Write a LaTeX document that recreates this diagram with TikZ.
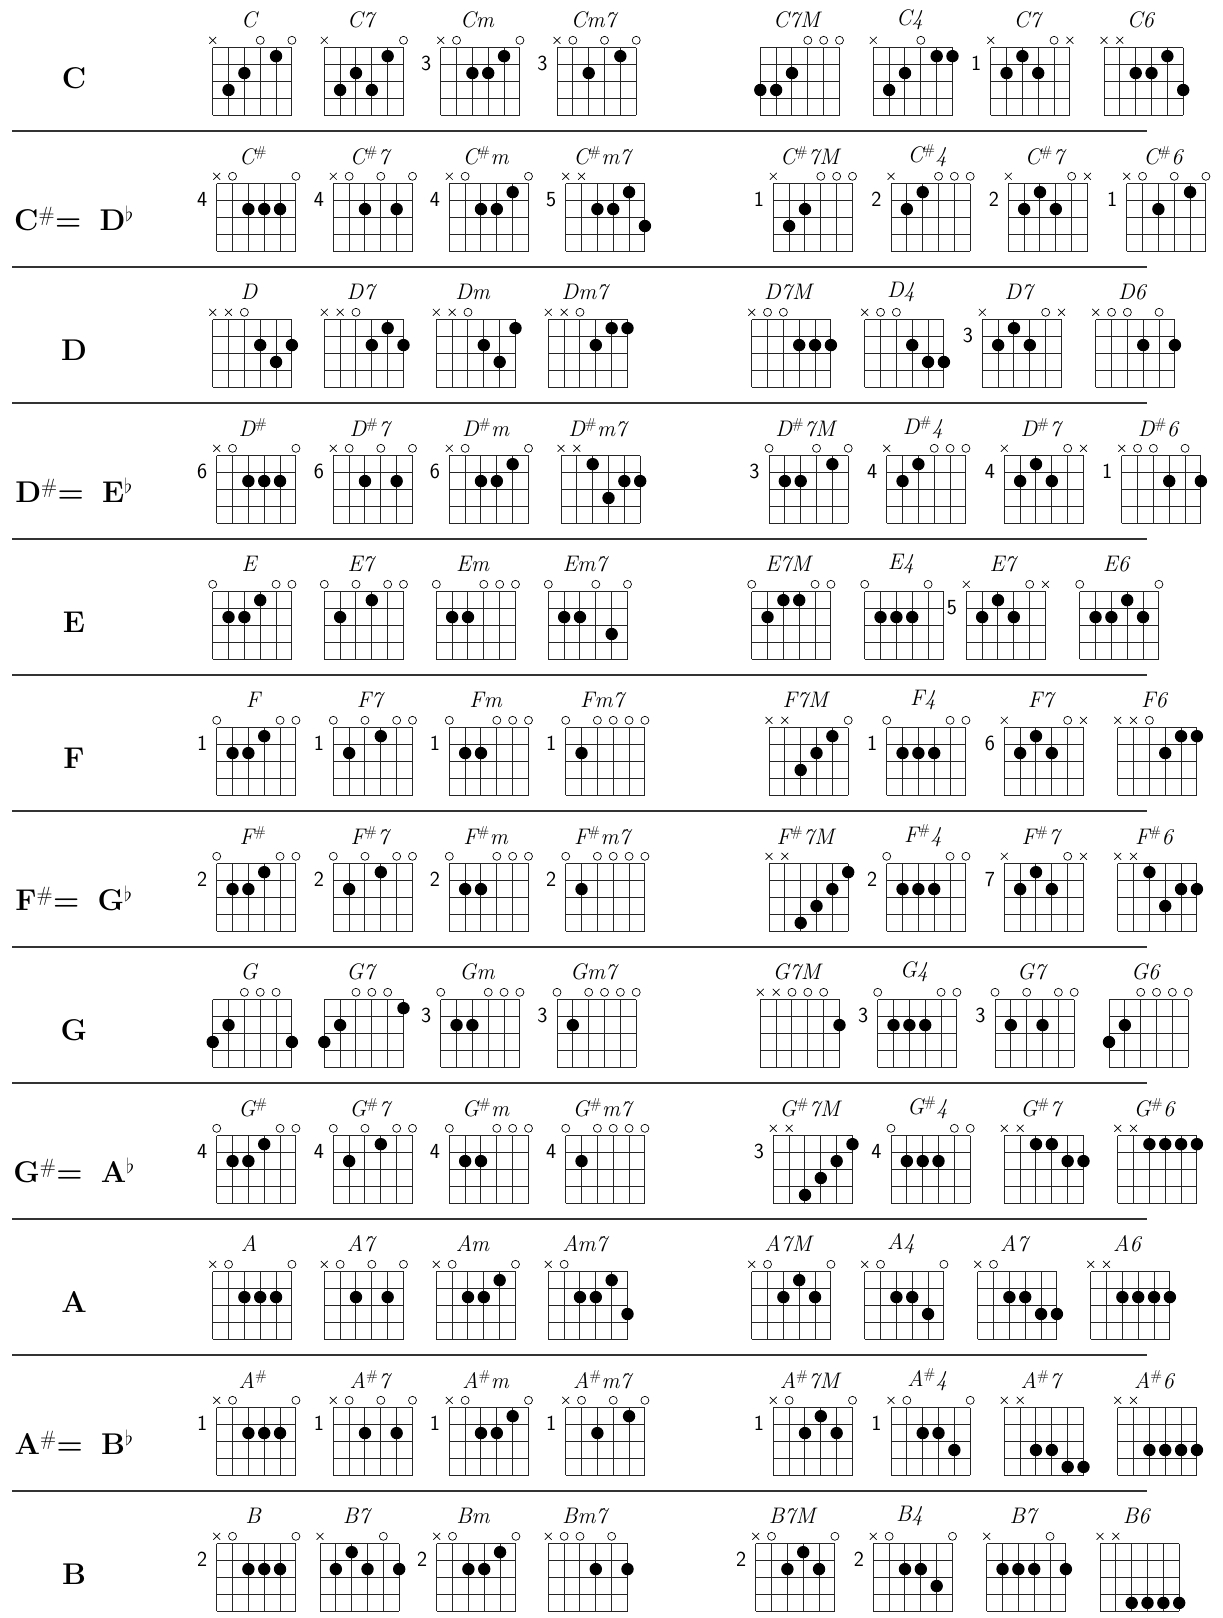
\documentclass[tikz,border=0pt]{standalone}
\newcounter{cdn}
\tikzset{
  gridln/.style={line width=1pt, draw=black!85},
  dotmark/.style={fill=black},
  openmark/.style={line width=0.7pt, draw=black},
  mutemark/.style={line width=0.7pt, draw=black},
  chordname/.style={font=\fontsize{22.5}{26}\selectfont\itshape, inner sep=0pt},
  fretlbl/.style={font=\fontsize{21.5}{25}\selectfont\sffamily, inner sep=0pt},
  rowlbl/.style={font=\fontsize{30}{36}\selectfont\bfseries, inner sep=0pt, anchor=base},
  sepline/.style={line width=1.6pt, draw=black!80},
}
\newcommand\sh{$^{\#}$}
\newcommand\cdiag[7]{%
 \stepcounter{cdn}%
 \begin{scope}[shift={(#1,47.7+136*#2)}]
   \foreach \i in {0,...,5} \draw[gridln] (\i*15.84,0) -- (\i*15.84,67.7);
   \foreach \j in {0,...,4} \draw[gridln] (0,\j*16.92) -- (79.2,\j*16.92);
   \node[chordname] (nm\thecdn) at (36.3,-28) {#3};
   \if\relax\detokenize{#4}\relax\else \node[fretlbl] (fr\thecdn) at (-14.5,15.7) {#4};\fi
   \if\relax\detokenize{#5}\relax\else
     \foreach \s in {#5} {\draw[mutemark] ({(\s-1)*15.84-3.4},-10.8) -- ++(6.8,6.8) ({(\s-1)*15.84-3.4},-4.0) -- ++(6.8,-6.8);}\fi
   \if\relax\detokenize{#6}\relax\else
     \foreach \s in {#6} {\draw[openmark] ({(\s-1)*15.84},-7.4) circle[radius=4];}\fi
   \foreach \ds/\df in {#7} {\fill[dotmark] ({(\ds-1)*15.84},{(\df-0.5)*16.92}) circle[radius=6.2];}
 \end{scope}}
\newcommand\rowlab[4]{\node[rowlbl] (#1) at (74,{47.7+136*#2+#3}) {#4};}
\newcommand\sharprow[2]{#1$^\#$= \hspace{7pt}#2$^\flat$}
\begin{document}
\begin{tikzpicture}[x=1pt,y=-1pt]
\fill[white] (0,0) rectangle (1223,1618);
\useasboundingbox (0,0) rectangle (1223,1618);
\foreach \k in {0,...,10} \draw[sepline] (12.4,131+136*\k) -- (1147,131+136*\k);
\rowlab{rC}{0}{41}{C}
\rowlab{rCs}{1}{46.5}{\sharprow{C}{D}}
\rowlab{rD}{2}{41}{D}
\rowlab{rDs}{3}{46.5}{\sharprow{D}{E}}
\rowlab{rE}{4}{41}{E}
\rowlab{rF}{5}{41}{F}
\rowlab{rFs}{6}{46.5}{\sharprow{F}{G}}
\rowlab{rG}{7}{41}{G}
\rowlab{rGs}{8}{46.5}{\sharprow{G}{A}}
\rowlab{rA}{9}{41}{A}
\rowlab{rAs}{10}{46.5}{\sharprow{A}{B}}
\rowlab{rB}{11}{41}{B}
% Row C
\cdiag{212.7}{0}{C}{}{1}{4,6}{5/1,3/2,2/3}
\cdiag{324.3}{0}{C7}{}{1}{6}{5/1,3/2,2/3,4/3}
\cdiag{440.7}{0}{Cm}{3}{1}{2,6}{5/1,3/2,4/2}
\cdiag{557.0}{0}{Cm7}{3}{1}{2,4,6}{5/1,3/2}
\cdiag{760.3}{0}{C7M}{}{}{4,5,6}{1/3,2/3,3/2}
\cdiag{873.3}{0}{C4}{}{1}{4}{5/1,6/1,3/2,2/3}
\cdiag{990.7}{0}{C7}{1}{1,6}{5}{3/1,2/2,4/2}
\cdiag{1104.0}{0}{C6}{}{1,2}{}{5/1,3/2,4/2,6/3}
% Row C#
\cdiag{216.7}{1}{C\sh}{4}{1}{2,6}{3/2,4/2,5/2}
\cdiag{333.3}{1}{C\sh 7}{4}{1}{2,4,6}{3/2,5/2}
\cdiag{449.3}{1}{C\sh m}{4}{1}{2,6}{5/1,3/2,4/2}
\cdiag{565.7}{1}{C\sh m7}{5}{1,2}{}{5/1,3/2,4/2,6/3}
\cdiag{773.3}{1}{C\sh 7M}{1}{1}{4,5,6}{3/2,2/3}
\cdiag{891.0}{1}{C\sh 4}{2}{1}{4,5,6}{3/1,2/2}
\cdiag{1008.3}{1}{C\sh 7}{2}{1,6}{5}{3/1,2/2,4/2}
\cdiag{1126.7}{1}{C\sh 6}{1}{1}{2,4,6}{5/1,3/2}
% Row D
\cdiag{212.7}{2}{D}{}{1,2}{3}{4/2,6/2,5/3}
\cdiag{324.3}{2}{D7}{}{1,2}{3}{5/1,4/2,6/2}
\cdiag{436.3}{2}{Dm}{}{1,2}{3}{6/1,4/2,5/3}
\cdiag{548.3}{2}{Dm7}{}{1,2}{3}{5/1,6/1,4/2}
\cdiag{751.7}{2}{D7M}{}{1}{2,3}{4/2,5/2,6/2}
\cdiag{864.7}{2}{D4}{}{1}{2,3}{4/2,5/3,6/3}
\cdiag{982.3}{2}{D7}{3}{1,6}{5}{3/1,2/2,4/2}
\cdiag{1095.7}{2}{D6}{}{1}{2,3,5}{4/2,6/2}
% Row D#
\cdiag{216.7}{3}{D\sh}{6}{1}{2,6}{3/2,4/2,5/2}
\cdiag{333.3}{3}{D\sh 7}{6}{1}{2,4,6}{3/2,5/2}
\cdiag{449.3}{3}{D\sh m}{6}{1}{2,6}{5/1,3/2,4/2}
\cdiag{561.0}{3}{D\sh m7}{}{1,2}{}{3/1,5/2,6/2,4/3}
\cdiag{769.0}{3}{D\sh 7M}{3}{}{1,4,6}{5/1,2/2,3/2}
\cdiag{886.7}{3}{D\sh 4}{4}{1}{4,5,6}{3/1,2/2}
\cdiag{1004.3}{3}{D\sh 7}{4}{1,6}{5}{3/1,2/2,4/2}
\cdiag{1121.7}{3}{D\sh 6}{1}{1}{2,3,5}{4/2,6/2}
% Row E
\cdiag{212.7}{4}{E}{}{}{1,5,6}{4/1,2/2,3/2}
\cdiag{324.3}{4}{E7}{}{}{1,3,5,6}{4/1,2/2}
\cdiag{436.3}{4}{Em}{}{}{1,4,5,6}{2/2,3/2}
\cdiag{548.3}{4}{Em7}{}{}{1,4,6}{2/2,3/2,5/3}
\cdiag{751.7}{4}{E7M}{}{}{1,5,6}{3/1,4/1,2/2}
\cdiag{864.7}{4}{E4}{}{}{1,5}{2/2,3/2,4/2}
\cdiag{966.3}{4}{E7}{5}{1,6}{5}{3/1,2/2,4/2}
\cdiag{1079.7}{4}{E6}{}{}{1,6}{4/1,2/2,3/2,5/2}
% Row F
\cdiag{216.7}{5}{F}{1}{}{1,5,6}{4/1,2/2,3/2}
\cdiag{333.3}{5}{F7}{1}{}{1,3,5,6}{4/1,2/2}
\cdiag{449.3}{5}{Fm}{1}{}{1,4,5,6}{2/2,3/2}
\cdiag{565.7}{5}{Fm7}{1}{}{1,3,4,5,6}{2/2}
\cdiag{769.0}{5}{F7M}{}{1,2}{6}{5/1,4/2,3/3}
\cdiag{886.7}{5}{F4}{1}{}{1,5,6}{2/2,3/2,4/2}
\cdiag{1004.3}{5}{F7}{6}{1,6}{5}{3/1,2/2,4/2}
\cdiag{1117.7}{5}{F6}{}{1,2}{3}{5/1,6/1,4/2}
% Row F#
\cdiag{216.7}{6}{F\sh}{2}{}{1,5,6}{4/1,2/2,3/2}
\cdiag{333.3}{6}{F\sh 7}{2}{}{1,3,5,6}{4/1,2/2}
\cdiag{449.3}{6}{F\sh m}{2}{}{1,4,5,6}{2/2,3/2}
\cdiag{565.7}{6}{F\sh m7}{2}{}{1,3,4,5,6}{2/2}
\cdiag{769.0}{6}{F\sh 7M}{}{1,2}{}{6/1,5/2,4/3,3/4}
\cdiag{886.7}{6}{F\sh 4}{2}{}{1,5,6}{2/2,3/2,4/2}
\cdiag{1004.3}{6}{F\sh 7}{7}{1,6}{5}{3/1,2/2,4/2}
\cdiag{1117.7}{6}{F\sh 6}{}{1,2}{}{3/1,5/2,6/2,4/3}
% Row G
\cdiag{212.7}{7}{G}{}{}{3,4,5}{2/2,1/3,6/3}
\cdiag{324.3}{7}{G7}{}{}{3,4,5}{6/1,2/2,1/3}
\cdiag{440.7}{7}{Gm}{3}{}{1,4,5,6}{2/2,3/2}
\cdiag{557.0}{7}{Gm7}{3}{}{1,3,4,5,6}{2/2}
\cdiag{760.3}{7}{G7M}{}{1,2}{3,4,5}{6/2}
\cdiag{877.7}{7}{G4}{3}{}{1,5,6}{2/2,3/2,4/2}
\cdiag{995.0}{7}{G7}{3}{}{1,3,5,6}{2/2,4/2}
\cdiag{1109.0}{7}{G6}{}{}{3,4,5,6}{2/2,1/3}
% Row G#
\cdiag{216.7}{8}{G\sh}{4}{}{1,5,6}{4/1,2/2,3/2}
\cdiag{333.3}{8}{G\sh 7}{4}{}{1,3,5,6}{4/1,2/2}
\cdiag{449.3}{8}{G\sh m}{4}{}{1,4,5,6}{2/2,3/2}
\cdiag{565.7}{8}{G\sh m7}{4}{}{1,3,4,5,6}{2/2}
\cdiag{773.3}{8}{G\sh 7M}{3}{1,2}{}{6/1,5/2,4/3,3/4}
\cdiag{891.0}{8}{G\sh 4}{4}{}{1,5,6}{2/2,3/2,4/2}
\cdiag{1004.3}{8}{G\sh 7}{}{1,2}{}{3/1,4/1,5/2,6/2}
\cdiag{1117.7}{8}{G\sh 6}{}{1,2}{}{3/1,4/1,5/1,6/1}
% Row A
\cdiag{212.7}{9}{A}{}{1}{2,6}{3/2,4/2,5/2}
\cdiag{324.3}{9}{A7}{}{1}{2,4,6}{3/2,5/2}
\cdiag{436.3}{9}{Am}{}{1}{2,6}{5/1,3/2,4/2}
\cdiag{548.3}{9}{Am7}{}{1}{2}{5/1,3/2,4/2,6/3}
\cdiag{751.7}{9}{A7M}{}{1}{2,6}{4/1,3/2,5/2}
\cdiag{864.7}{9}{A4}{}{1}{2,6}{3/2,4/2,5/3}
\cdiag{977.7}{9}{A7}{}{1}{2}{3/2,4/2,5/3,6/3}
\cdiag{1090.7}{9}{A6}{}{1,2}{}{3/2,4/2,5/2,6/2}
% Row A#
\cdiag{216.7}{10}{A\sh}{1}{1}{2,6}{3/2,4/2,5/2}
\cdiag{333.3}{10}{A\sh 7}{1}{1}{2,4,6}{3/2,5/2}
\cdiag{449.3}{10}{A\sh m}{1}{1}{2,6}{5/1,3/2,4/2}
\cdiag{565.7}{10}{A\sh m7}{1}{1}{2,4,6}{5/1,3/2}
\cdiag{773.3}{10}{A\sh 7M}{1}{1}{2,6}{4/1,3/2,5/2}
\cdiag{891.0}{10}{A\sh 4}{1}{1}{2,6}{3/2,4/2,5/3}
\cdiag{1004.3}{10}{A\sh 7}{}{1,2}{}{3/3,4/3,5/4,6/4}
\cdiag{1117.7}{10}{A\sh 6}{}{1,2}{}{3/3,4/3,5/3,6/3}
% Row B
\cdiag{216.7}{11}{B}{2}{1}{2,6}{3/2,4/2,5/2}
\cdiag{320.0}{11}{B7}{}{1}{5}{3/1,2/2,4/2,6/2}
\cdiag{436.7}{11}{Bm}{2}{1}{2,6}{5/1,3/2,4/2}
\cdiag{548.3}{11}{Bm7}{}{1}{2,3,5}{4/2,6/2}
\cdiag{755.7}{11}{B7M}{2}{1}{2,6}{4/1,3/2,5/2}
\cdiag{873.3}{11}{B4}{2}{1}{2,6}{3/2,4/2,5/3}
\cdiag{986.7}{11}{B7}{}{1}{5}{2/2,3/2,4/2,6/2}
\cdiag{1100.0}{11}{B6}{}{1,2}{}{3/4,4/4,5/4,6/4}
\end{tikzpicture}
\end{document}
